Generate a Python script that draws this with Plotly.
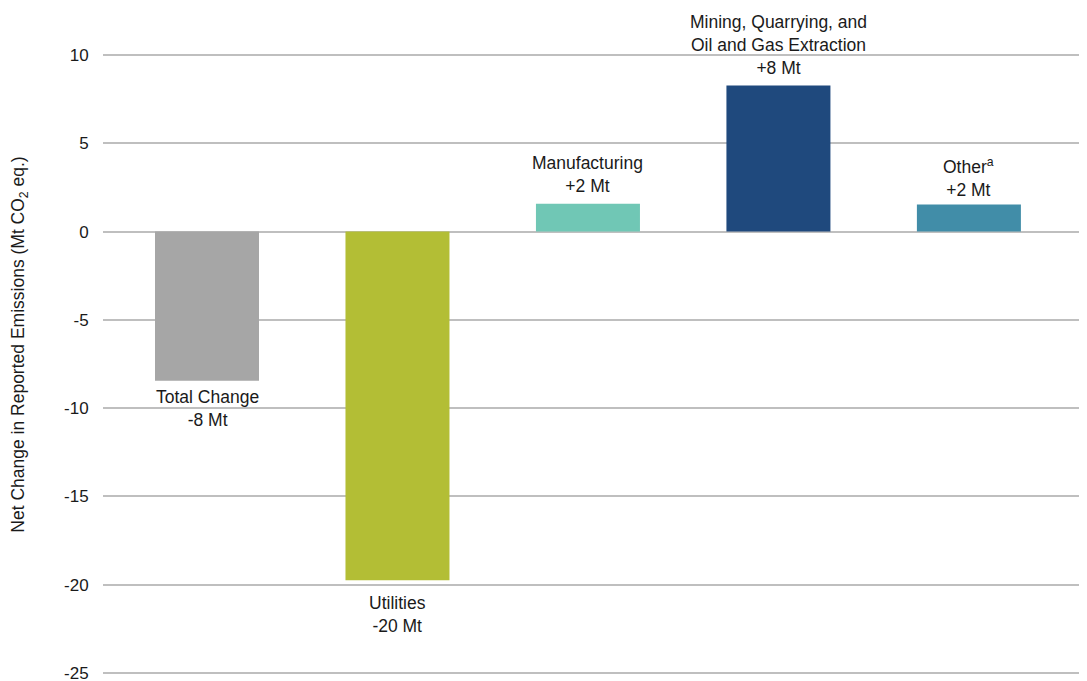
import plotly.graph_objects as go

categories = ["Total Change", "Utilities", "Manufacturing",
              "Mining, Quarrying, and<br>Oil and Gas Extraction", "Other<sup>a</sup>"]
values = [-8.45, -19.75, 1.58, 8.27, 1.53]
value_labels = ["-8 Mt", "-20 Mt", "+2 Mt", "+8 Mt", "+2 Mt"]
colors = ["#A6A6A6", "#B3BE35", "#70C7B5", "#1F497D", "#418DA8"]
tick_vals = [10, 5, 0, -5, -10, -15, -20, -25]

x = list(range(len(categories)))

# label offsets from the bar end (pixels), styling only
label_shift = {0: -4, 1: -11, 2: 6, 3: 6, 4: 3}

fig = go.Figure()
fig.add_trace(go.Bar(x=x, y=values, marker=dict(color=colors, line=dict(width=0)),
                     width=0.546, hoverinfo="skip"))

for i, (c, v, lab) in enumerate(zip(categories, values, value_labels)):
    fig.add_annotation(x=i, y=v, text=c + "<br>" + lab, showarrow=False,
                       yanchor="bottom" if v >= 0 else "top", yshift=label_shift[i],
                       font=dict(size=17.5, color="#1a1a1a"))

fig.update_layout(
    width=1079, height=673,
    margin=dict(l=95, r=0, t=0, b=0),
    paper_bgcolor="white", plot_bgcolor="white",
    font=dict(family="Liberation Sans, Arial, sans-serif", size=17, color="#1a1a1a"),
    showlegend=False,
    xaxis=dict(range=[-0.546, 4.62], showticklabels=False, showgrid=False,
               zeroline=False, showline=False, fixedrange=True, automargin=False),
    yaxis=dict(range=[-25.453, 12.662], tickvals=tick_vals, ticktext=[str(t) for t in tick_vals],
               showgrid=True, gridcolor="#BFBFBF", gridwidth=2,
               zeroline=True, zerolinecolor="#BFBFBF", zerolinewidth=2,
               ticks="outside", ticklen=10, tickcolor="rgba(0,0,0,0)",
               tickfont=dict(size=17), automargin=False, ticklabeloverflow="allow",
               title=dict(text="Net Change in Reported Emissions (Mt CO<sub>2</sub> eq.)",
                          font=dict(size=17.5), standoff=36),
               showline=False),
)

fig.write_html("out.html")
